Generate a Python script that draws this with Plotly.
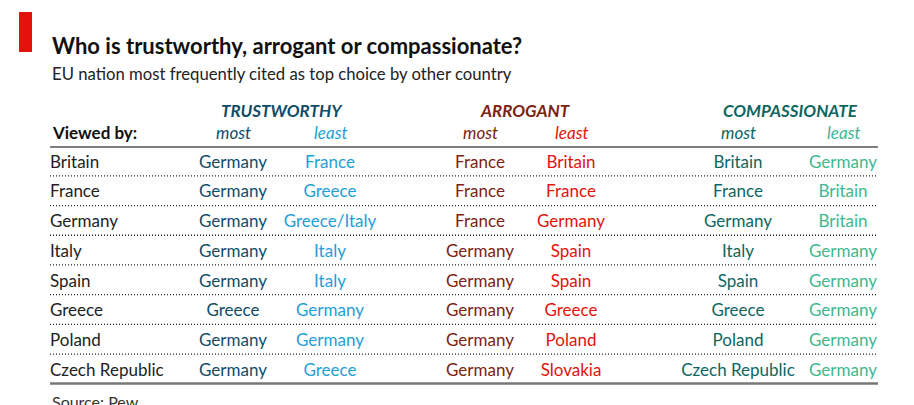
import plotly.graph_objects as go

viewers = ["Britain", "France", "Germany", "Italy", "Spain", "Greece", "Poland", "Czech Republic"]
trust_most = ["Germany", "Germany", "Germany", "Germany", "Germany", "Greece", "Germany", "Germany"]
trust_least = ["France", "Greece", "Greece/Italy", "Italy", "Italy", "Germany", "Germany", "Greece"]
arrog_most = ["France", "France", "France", "Germany", "Germany", "Germany", "Germany", "Germany"]
arrog_least = ["Britain", "France", "Germany", "Spain", "Spain", "Greece", "Poland", "Slovakia"]
comp_most = ["Britain", "France", "Germany", "Italy", "Spain", "Greece", "Poland", "Czech Republic"]
comp_least = ["Germany", "Britain", "Britain", "Germany", "Germany", "Germany", "Germany", "Germany"]

groups = ["TRUSTWORTHY", "ARROGANT", "COMPASSIONATE"]

FONT = "Lato"
W, H = 914, 405
ROW_TOP, ROW_STEP = 161, 29.7
TEXT_NUDGE = 2.5  # Lato sits a little high when middle-anchored
LEFT, RIGHT = 50, 878

row_y = [ROW_TOP + i * ROW_STEP for i in range(len(viewers))]
text_y = [y + TEXT_NUDGE for y in row_y]

# (values, x centre, colour) per column
columns = [
    (trust_most, 233, "#0f4c68"),
    (trust_least, 330, "#1ea0d6"),
    (arrog_most, 480, "#7b2313"),
    (arrog_least, 571, "#e3120b"),
    (comp_most, 738, "#0d6662"),
    (comp_least, 843, "#3db890"),
]

fig = go.Figure()

fig.add_trace(go.Scatter(
    x=[LEFT] * len(viewers), y=text_y, text=viewers, mode="text",
    textposition="middle right", textfont=dict(family=FONT, size=17, color="#222222"),
    hoverinfo="skip"))

for vals, cx, col in columns:
    fig.add_trace(go.Scatter(
        x=[cx] * len(vals), y=text_y, text=vals, mode="text",
        textposition="middle center", textfont=dict(family=FONT, size=17, color=col),
        hoverinfo="skip"))

# group headers and most/least sub-headers
for k, g in enumerate(groups):
    c_most, c_least = columns[2 * k], columns[2 * k + 1]
    fig.add_annotation(x=(c_most[1] + c_least[1]) / 2, y=110, text="<b><i>%s</i></b>" % g,
                       showarrow=False, font=dict(family=FONT, size=17, color=c_most[2]))
    fig.add_annotation(x=c_most[1], y=132, text="<i>most</i>", showarrow=False,
                       font=dict(family=FONT, size=17, color=c_most[2]))
    fig.add_annotation(x=c_least[1], y=132, text="<i>least</i>", showarrow=False,
                       font=dict(family=FONT, size=17, color=c_least[2]))

fig.add_annotation(x=LEFT, y=132, text="<b>Viewed by:</b>", showarrow=False, xanchor="left",
                   font=dict(family=FONT, size=17, color="#111111"))

# title block
fig.add_shape(type="rect", x0=19, x1=32, y0=12, y1=52, fillcolor="#e3120b", line_width=0)
fig.add_annotation(x=LEFT, y=45, text="<b>Who is trustworthy, arrogant or compassionate?</b>",
                   showarrow=False, xanchor="left", font=dict(family=FONT, size=22, color="#111111"))
fig.add_annotation(x=LEFT, y=74, text="EU nation most frequently cited as top choice by other country",
                   showarrow=False, xanchor="left", font=dict(family=FONT, size=16.7, color="#222222"))
# the source line is cropped by the window bottom, as in the original
fig.add_annotation(x=LEFT, y=401, text="Source: Pew", showarrow=False, xanchor="left",
                   font=dict(family=FONT, size=16, color="#333333"))

# rules
fig.add_shape(type="line", x0=LEFT, x1=RIGHT, y0=147, y1=147, line=dict(color="#555555", width=1.5))
for i in range(len(viewers) - 1):
    yy = (row_y[i] + row_y[i + 1]) / 2
    fig.add_shape(type="line", x0=LEFT, x1=RIGHT, y0=yy, y1=yy,
                  line=dict(color="#222222", width=1.3, dash="1px,2px"))
fig.add_shape(type="line", x0=LEFT, x1=RIGHT, y0=383.5, y1=383.5, line=dict(color="#777777", width=2.5))

fig.update_layout(
    width=W, height=H, margin=dict(l=0, r=0, t=0, b=0),
    plot_bgcolor="white", paper_bgcolor="white", showlegend=False,
    xaxis=dict(range=[0, W], visible=False, fixedrange=True),
    yaxis=dict(range=[H, 0], visible=False, fixedrange=True),
)

# the page's default body margin would push the chart 8px off the window corner
fig.write_html("out.html", config={"displayModeBar": False},
               post_script="document.body.style.margin = '0';")
